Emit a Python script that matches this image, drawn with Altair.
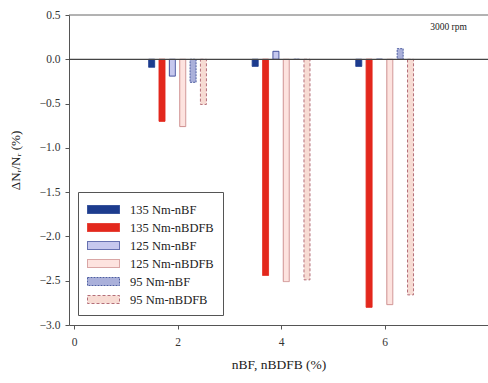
import altair as alt
import pandas as pd

# Fuel blend content (%), one group of bars per level
blend_pct = [2, 4, 6]

series_names = [
    "135 Nm-nBF",
    "135 Nm-nBDFB",
    "125 Nm-nBF",
    "125 Nm-nBDFB",
    "95 Nm-nBF",
    "95 Nm-nBDFB",
]

# Relative change of engine speed (%) for each series at 2, 4, 6 %
v_135_nbf = [-0.09, -0.08, -0.08]
v_135_nbdfb = [-0.70, -2.44, -2.80]
v_125_nbf = [-0.19, 0.09, 0.0]
v_125_nbdfb = [-0.76, -2.51, -2.77]
v_95_nbf = [-0.26, 0.0, 0.12]
v_95_nbdfb = [-0.51, -2.49, -2.66]

series_values = [v_135_nbf, v_135_nbdfb, v_125_nbf, v_125_nbdfb, v_95_nbf, v_95_nbdfb]

# bar offsets inside each group (in x-axis units)
offsets = [-0.5, -0.3, -0.1, 0.1, 0.3, 0.5]

fills = ["#1d3c8e", "#e3281d", "#c6c8ee", "#fde3df", "#aab0da", "#f7dbd3"]
strokes = ["#1d3c8e", "#e3281d", "#3c4a98", "#cc8c8c", "#4e5ea2", "#b46e78"]
dashes = [[1, 0], [1, 0], [1, 0], [1, 0], [2, 1], [3, 2]]

rows = []
for name, vals, off in zip(series_names, series_values, offsets):
    for b, v in zip(blend_pct, vals):
        rows.append({"series": name, "pos": b + off, "value": v})
df = pd.DataFrame(rows)

FONT = "Liberation Serif"

x_scale = alt.Scale(domain=[0, 7.9], nice=False, zero=False)
y_scale = alt.Scale(domain=[-3.0, 0.5], nice=False)

bars = alt.Chart(df).mark_bar(size=6, strokeWidth=1, opacity=1).encode(
    x=alt.X(
        "pos:Q",
        scale=x_scale,
        axis=alt.Axis(
            values=[0, 2, 4, 6],
            title="nBF, nBDFB (%)",
            grid=False,
            tickSize=4,
            labelPadding=7,
            titlePadding=10,
            titleFontSize=13.5,
        ),
    ),
    y=alt.Y(
        "value:Q",
        scale=y_scale,
        axis=alt.Axis(
            values=[0.5, 0.0, -0.5, -1.0, -1.5, -2.0, -2.5, -3.0],
            format=".1f",
            title="ΔNᵣ/Nᵣ (%)",
            grid=False,
            tickSize=4,
            labelPadding=5,
            titleAngle=-90,
            titleX=-54,
            titleY=145,
            titleAlign="center",
            titleBaseline="middle",
            titleFontSize=13,
        ),
    ),
    y2=alt.datum(0),
    fill=alt.Fill(
        "series:N",
        sort=series_names,
        scale=alt.Scale(domain=series_names, range=fills),
        legend=alt.Legend(
            title=None,
            orient="none",
            legendX=9,
            legendY=177,
            # wide flat swatch: 32 x 8 px drawn on a 16 px symbol cell
            symbolType="M-2,-0.5H2V0.5H-2Z",
            symbolSize=256,
            symbolOffset=8,
            symbolStrokeWidth=1,
            labelFont=FONT,
            labelFontSize=12.5,
            labelColor="#222",
            labelOffset=18,
            rowPadding=3,
            padding=9,
            strokeColor="#555",
            fillColor="white",
        ),
    ),
    stroke=alt.Stroke(
        "series:N",
        sort=series_names,
        scale=alt.Scale(domain=series_names, range=strokes),
    ),
    strokeDash=alt.StrokeDash(
        "series:N",
        sort=series_names,
        scale=alt.Scale(domain=series_names, range=dashes),
    ),
)

# zero line and top frame line
zero_line = alt.Chart(pd.DataFrame({"y": [0.0]})).mark_rule(color="#444", strokeWidth=1.3).encode(
    y=alt.Y("y:Q", scale=y_scale)
)
top_line = alt.Chart(pd.DataFrame({"y": [0.5]})).mark_rule(color="#666", strokeWidth=1).encode(
    y=alt.Y("y:Q", scale=y_scale)
)

speed_label = alt.Chart(pd.DataFrame({"x": [6.88], "y": [0.36], "t": ["3000 rpm"]})).mark_text(
    align="left", baseline="middle", font=FONT, fontSize=9.5, color="#222"
).encode(
    x=alt.X("x:Q", scale=x_scale),
    y=alt.Y("y:Q", scale=y_scale),
    text="t:N",
)

chart = (
    alt.layer(bars, zero_line, top_line, speed_label)
    .properties(
        width=419,
        height=310,
        autosize=alt.AutoSizeParams(type="none"),
        padding={"left": 69, "top": 15, "right": 0, "bottom": 58},
        background="white",
    )
    .configure_view(stroke=None)
    .configure_axis(
        domainColor="#555",
        tickColor="#555",
        labelFont=FONT,
        titleFont=FONT,
        labelFontSize=11.5,
        labelColor="#333",
        titleColor="#222",
        titleFontWeight="normal",
    )
)

chart.save("out.html", embed_options={"renderer": "svg", "actions": False})
